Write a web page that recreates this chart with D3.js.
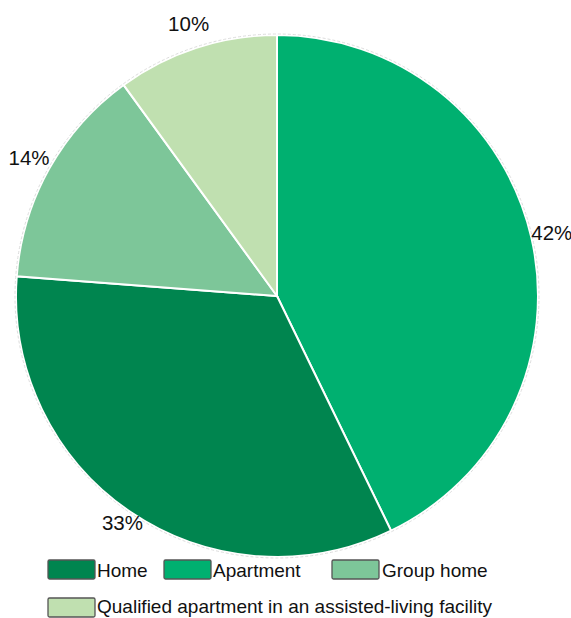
<!DOCTYPE html>
<html><head><meta charset="utf-8">
<script src="https://cdn.jsdelivr.net/npm/d3@7"></script>
<style>body{margin:0;background:#fff}svg{display:block}text{font-family:"Liberation Sans",Arial,sans-serif}</style>
</head><body>
<script>
const categories = ["Apartment","Home","Group home","Qualified apartment in an assisted-living facility"];
const values = [42.8, 33.4, 13.8, 10.0];
const labels = ["42%","33%","14%","10%"];
const colors = ["#00b070","#00854f","#7dc699","#c0e0b0"];
const legendOrder = ["Home","Apartment","Group home","Qualified apartment in an assisted-living facility"];

const W=571,H=618,cx=277,cy=296,R=261;
const svg=d3.select("body").append("svg").attr("width",W).attr("height",H);
const g=svg.append("g").attr("transform",`translate(${cx},${cy})`);
const pie=d3.pie().sort(null).value(d=>d)(values);
const arc=d3.arc().innerRadius(0).outerRadius(R);
g.selectAll("path.s").data(pie).join("path").attr("class","s")
 .attr("d",arc).attr("fill",(d,i)=>colors[i]).attr("stroke","#fff").attr("stroke-width",2);
g.append("circle").attr("r",R+1).attr("fill","none").attr("stroke","#ddd").attr("stroke-width",1).attr("stroke-dasharray","3,2");
const lr=[282,275,284,286];
g.selectAll("text.l").data(pie).join("text").attr("class","l")
 .attr("x",(d,i)=>lr[i]*Math.sin((d.startAngle+d.endAngle)/2))
 .attr("y",(d,i)=>-lr[i]*Math.cos((d.startAngle+d.endAngle)/2)+7)
 .attr("text-anchor","middle")
 .attr("font-size",20.5).attr("fill","#111").text((d,i)=>labels[i]);

const leg=[{x:48,y:560,tx:97,ty:577},{x:164,y:560,tx:213,ty:577},{x:332,y:560,tx:382,ty:577},{x:48,y:598,tx:97,ty:613}];
legendOrder.forEach((name,k)=>{
  const i=categories.indexOf(name), p=leg[k];
  svg.append("rect").attr("x",p.x).attr("y",p.y).attr("width",47).attr("height",19).attr("rx",1.5)
   .attr("fill",colors[i]).attr("stroke","#555").attr("stroke-width",1.3);
  svg.append("text").attr("x",p.tx).attr("y",p.ty).attr("font-size",19).attr("fill","#111").text(name);
});
</script>
</body></html>
